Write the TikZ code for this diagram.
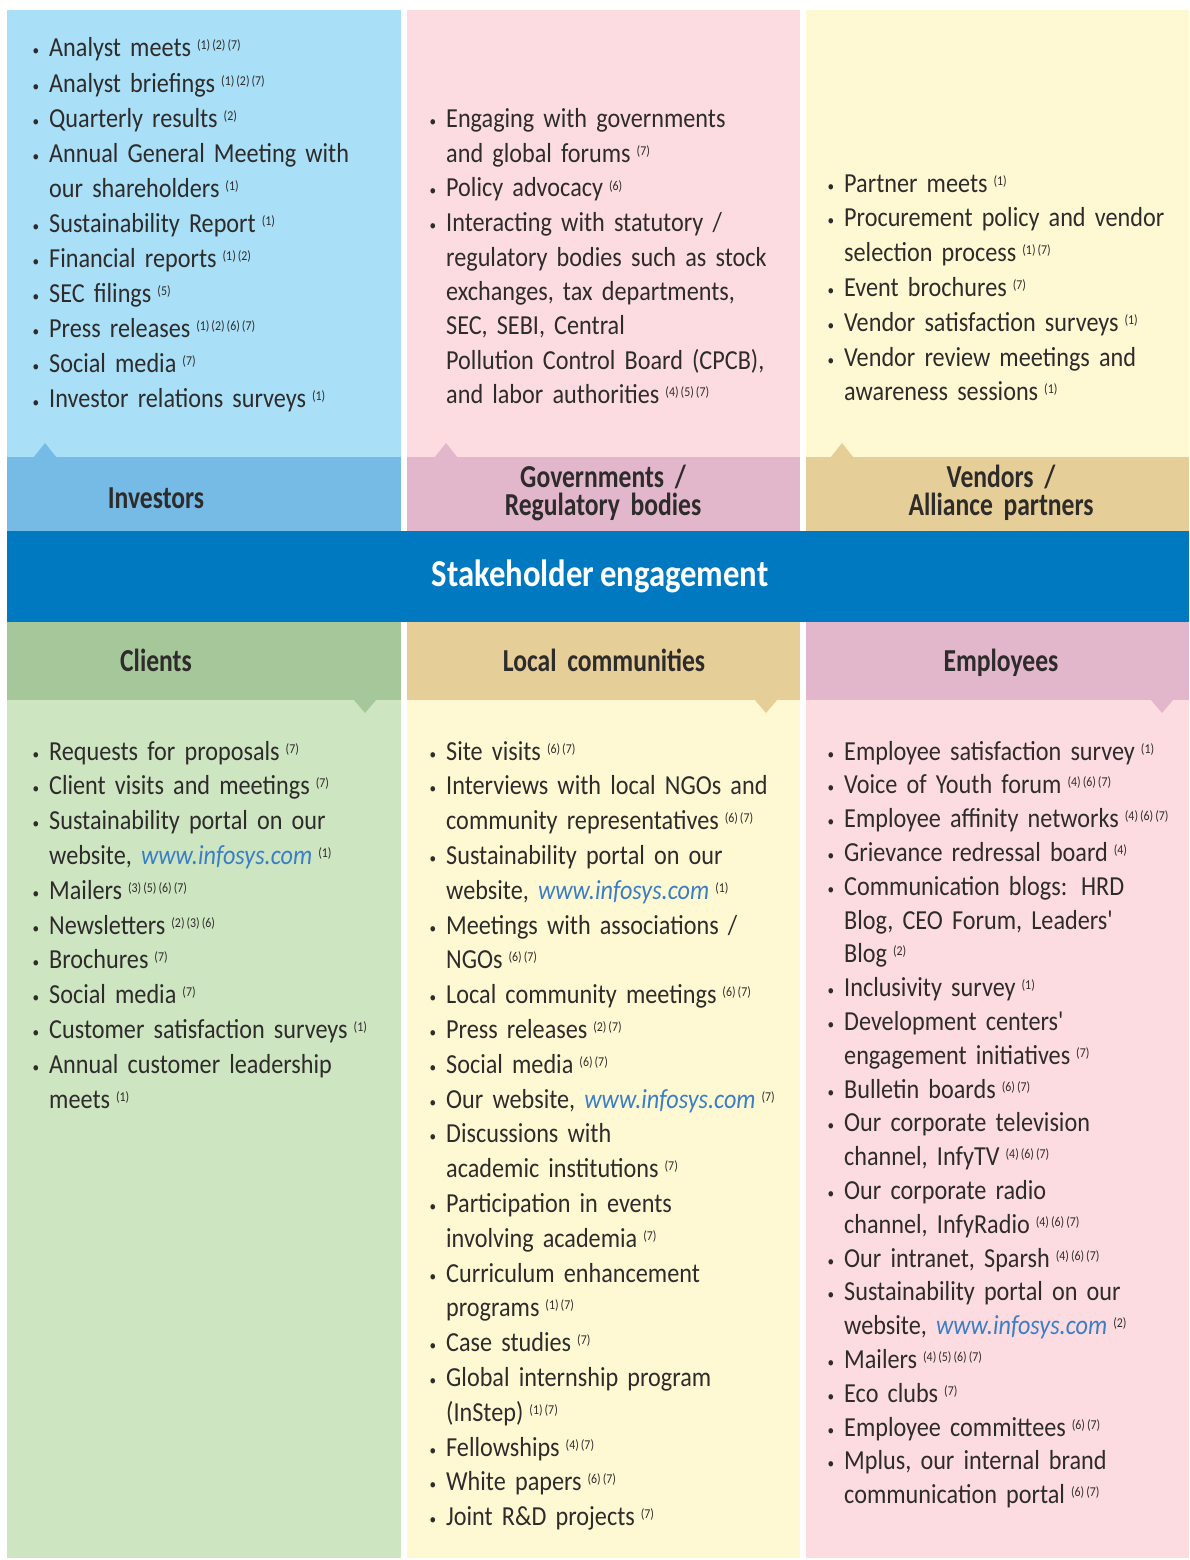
\documentclass[tikz,border=0pt]{standalone}
\usepackage{fontspec}
\setmainfont{Carlito}[FakeStretch=0.88, WordSpace=0.75]
\newfontfamily\titfont{Carlito}[FakeStretch=0.8, WordSpace=0.7]
\newfontfamily\faixafont{Carlito}[FakeStretch=0.86, WordSpace=0.8]

% Cores dos painéis
\definecolor{azulclaro}{HTML}{A9DFF7}
\definecolor{azul}{HTML}{76BBE6}
\definecolor{rosaclaro}{HTML}{FCDCE0}
\definecolor{rosa}{HTML}{E2B6CB}
\definecolor{creme}{HTML}{FFF9D3}
\definecolor{areia}{HTML}{E6CE98}
\definecolor{verdeclaro}{HTML}{CEE5C1}
\definecolor{verde}{HTML}{A6C79A}
\definecolor{faixa}{HTML}{0079C1}
\definecolor{ligacao}{HTML}{3A7EC6}
\definecolor{texto}{HTML}{2E2B2B}

% Marcador, notas e endereço do site
\newcommand{\marca}{\leavevmode\llap{\raisebox{1pt}{\fontsize{15}{15}\selectfont\textbullet}\hspace{10pt}}}
\newcommand{\nota}[1]{\hspace{6pt}\raisebox{7pt}{\fontsize{13.5}{13.5}\selectfont
  \foreach \n [count=\i] in {#1} {\ifnum\i>1\kern2pt\fi(\n)}}}
\newcommand{\site}{{\color{ligacao}\itshape www.infosys.com}}

\tikzset{
  lista/.style={align=left, text width=400pt, inner sep=0pt, anchor=base west,
    text=texto, font=\fontsize{27.5}{#1}\selectfont},
  titulo/.style={align=center, text width=300pt, inner sep=0pt, anchor=base,
    text=texto, font=\titfont\bfseries\fontsize{32}{28}\selectfont}
}

\begin{document}
\begin{tikzpicture}[x=1pt, y=-1pt]
    \useasboundingbox (0,0) rectangle (1189,1560);

    % Painéis de cima: fundo claro e faixa do título.
    \foreach \xa/\xb/\claro/\escuro in {7/401/azulclaro/azul, 407/800/rosaclaro/rosa, 806/1189/creme/areia} {
      \fill[\claro] (\xa,10) rectangle (\xb,457);
      \fill[\escuro] (\xa,457) rectangle (\xb,531);
    }

    % Painéis de baixo.
    \foreach \xa/\xb/\claro/\escuro in {7/401/verdeclaro/verde, 407/800/creme/areia, 806/1189/rosaclaro/rosa} {
      \fill[\escuro] (\xa,622) rectangle (\xb,700);
      \fill[\claro] (\xa,700) rectangle (\xb,1558);
    }

    % Setas pequenas dos títulos.
    \foreach \x/\cor in {45/azul, 446/rosa, 842/areia} {
      \fill[\cor] (\x-11.5,457.5) -- (\x,443) -- (\x+11.5,457.5) -- cycle;
    }
    \foreach \x/\cor in {365/verde, 766/areia, 1162/rosa} {
      \fill[\cor] (\x-11.5,699.5) -- (\x,713) -- (\x+11.5,699.5) -- cycle;
    }

    % Faixa central.
    \fill[faixa] (7,531) rectangle (1189,622);
    \node[anchor=base, inner sep=0pt, text=white, font=\faixafont\bfseries\fontsize{38}{38}\selectfont]
      (engaj) at (600,586) {Stakeholder engagement};

    % Títulos dos grupos.
    \node[titulo] (invest) at (156,508) {Investors};
    \node[titulo] (gov) at (603,487) {Governments /\\Regulatory bodies};
    \node[titulo] (vend) at (1001,487) {Vendors /\\Alliance partners};
    \node[titulo] (clien) at (156,671) {Clients};
    \node[titulo] (comun) at (604,671) {Local communities};
    \node[titulo] (func) at (1001,671) {Employees};

    % Listas de cima.
    \node[lista=35.1] (investlista) at (49,57) {%
      \marca Analyst meets\nota{1,2,7}\\
      \marca Analyst briefings\nota{1,2,7}\\
      \marca Quarterly results\nota{2}\\
      \marca Annual General Meeting with\\
      our shareholders\nota{1}\\
      \marca Sustainability Report\nota{1}\\
      \marca Financial reports\nota{1,2}\\
      \marca SEC filings\nota{5}\\
      \marca Press releases\nota{1,2,6,7}\\
      \marca Social media\nota{7}\\
      \marca Investor relations surveys\nota{1}};

    \node[lista=34.5] (govlista) at (446,128) {%
      \marca Engaging with governments\\
      and global forums\nota{7}\\
      \marca Policy advocacy\nota{6}\\
      \marca Interacting with statutory /\\
      regulatory bodies such as stock\\
      exchanges, tax departments,\\
      SEC, SEBI, Central\\
      Pollution Control Board (CPCB),\\
      and labor authorities\nota{4,5,7}};

    \node[lista=34.8] (vendlista) at (844,192) {%
      \marca Partner meets\nota{1}\\
      \marca Procurement policy and vendor\\
      selection process\nota{1,7}\\
      \marca Event brochures\nota{7}\\
      \marca Vendor satisfaction surveys\nota{1}\\
      \marca Vendor review meetings and\\
      awareness sessions\nota{1}};

    % Listas de baixo.
    \node[lista=34.8] (clienlista) at (49,760) {%
      \marca Requests for proposals\nota{7}\\
      \marca Client visits and meetings\nota{7}\\
      \marca Sustainability portal on our\\
      website, \site\nota{1}\\
      \marca Mailers\nota{3,5,6,7}\\
      \marca Newsletters\nota{2,3,6}\\
      \marca Brochures\nota{7}\\
      \marca Social media\nota{7}\\
      \marca Customer satisfaction surveys\nota{1}\\
      \marca Annual customer leadership\\
      meets\nota{1}};

    \node[lista=34.8] (comunlista) at (446,760) {%
      \marca Site visits\nota{6,7}\\
      \marca Interviews with local NGOs and\\
      community representatives\nota{6,7}\\
      \marca Sustainability portal on our\\
      website, \site\nota{1}\\
      \marca Meetings with associations /\\
      NGOs\nota{6,7}\\
      \marca Local community meetings\nota{6,7}\\
      \marca Press releases\nota{2,7}\\
      \marca Social media\nota{6,7}\\
      \marca Our website, \site\nota{7}\\
      \marca Discussions with\\
      academic institutions\nota{7}\\
      \marca Participation in events\\
      involving academia\nota{7}\\
      \marca Curriculum enhancement\\
      programs\nota{1,7}\\
      \marca Case studies\nota{7}\\
      \marca Global internship program\\
      (InStep)\nota{1,7}\\
      \marca Fellowships\nota{4,7}\\
      \marca White papers\nota{6,7}\\
      \marca Joint R\&D projects\nota{7}};

    \node[lista=33.8] (funclista) at (844,760) {%
      \marca Employee satisfaction survey\nota{1}\\
      \marca Voice of Youth forum\nota{4,6,7}\\
      \marca Employee affinity networks\nota{4,6,7}\\
      \marca Grievance redressal board\nota{4}\\
      \marca Communication blogs: HRD\\
      Blog, CEO Forum, Leaders\textquotesingle\\
      Blog\nota{2}\\
      \marca Inclusivity survey\nota{1}\\
      \marca Development centers\textquotesingle\\
      engagement initiatives\nota{7}\\
      \marca Bulletin boards\nota{6,7}\\
      \marca Our corporate television\\
      channel, InfyTV\nota{4,6,7}\\
      \marca Our corporate radio\\
      channel, InfyRadio\nota{4,6,7}\\
      \marca Our intranet, Sparsh\nota{4,6,7}\\
      \marca Sustainability portal on our\\
      website, \site\nota{2}\\
      \marca Mailers\nota{4,5,6,7}\\
      \marca Eco clubs\nota{7}\\
      \marca Employee committees\nota{6,7}\\
      \marca Mplus, our internal brand\\
      communication portal\nota{6,7}};
  \end{tikzpicture}
\end{document}
